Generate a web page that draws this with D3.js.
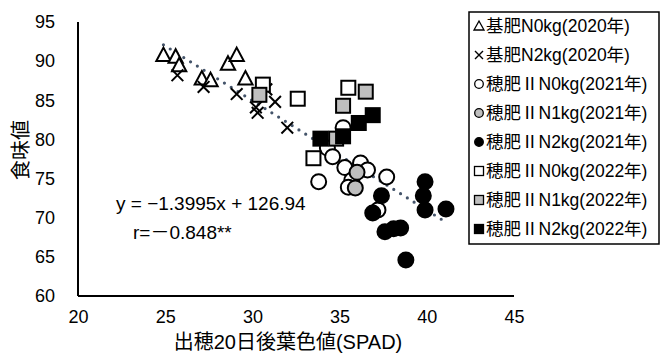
<!DOCTYPE html>
<html><head><meta charset="utf-8">
<script src="https://cdn.jsdelivr.net/npm/d3@7"></script>
<style>
html,body{margin:0;padding:0;background:#fff;}
svg text{font-family:"Liberation Sans","Noto Sans CJK JP",sans-serif;fill:#000;}
</style></head>
<body>
<svg id="chart" width="661" height="353"></svg>
<script>
// ---- data ----
const xTicks = [20, 25, 30, 35, 40, 45];
const yTicks = [60, 65, 70, 75, 80, 85, 90, 95];
const xTitle = "出穂20日後葉色値(SPAD)";
const yTitle = "食味値";
const eqText = "y = −1.3995x + 126.94";
const rText = "r=－0.848**";
const trendSlope = -1.3995;
const trendIntercept = 126.94;

const base0_2020 = [[24.9,90.7],[25.6,90.5],[25.8,89.4],[27.1,87.7],[27.6,87.5],[28.6,89.6],[29.1,90.7],[29.6,87.7]];
const base2_2020 = [[25.7,88.2],[27.2,86.7],[29.1,85.8],[30.2,84.1],[30.3,83.4],[30.8,86.4],[31.3,84.8],[32.0,81.5]];
const ear0_2021 = [[35.2,81.5],[34.3,78.9],[34.6,77.8],[33.8,74.6],[35.3,76.4],[36.2,77.0],[36.6,76.1],[35.7,74.8],[35.5,73.9],[37.7,75.2],[37.2,71.0]];
const ear1_2021 = [[36.0,75.8],[35.9,73.8]];
const ear2_2021 = [[39.9,74.6],[39.8,72.8],[39.9,71.0],[41.1,71.1],[37.4,72.8],[36.9,70.6],[37.6,68.2],[38.1,68.6],[38.5,68.7],[38.8,64.6]];
const ear0_2022 = [[30.6,87.0],[32.6,85.2],[35.5,86.6],[33.5,77.6]];
const ear1_2022 = [[30.4,85.7],[36.5,86.1],[35.2,84.3],[34.8,80.1]];
const ear2_2022 = [[36.9,83.1],[36.1,82.1],[35.2,80.4],[33.9,80.1]];

const legendLabels = ["基肥N0kg(2020年)","基肥N2kg(2020年)","穂肥ⅡN0kg(2021年)","穂肥ⅡN1kg(2021年)","穂肥ⅡN2kg(2021年)","穂肥ⅡN0kg(2022年)","穂肥ⅡN1kg(2022年)","穂肥ⅡN2kg(2022年)"];

// ---- series definitions ----
const series = [
  {data: base0_2020, shape: "tri", fill: "#fff", size: 13},
  {data: base2_2020, shape: "cross", fill: "none", size: 13},
  {data: ear0_2021, shape: "circle", fill: "#fff", size: 15},
  {data: ear1_2021, shape: "circle", fill: "#bfbfbf", size: 15},
  {data: ear2_2021, shape: "circle", fill: "#000", size: 15},
  {data: ear0_2022, shape: "square", fill: "#fff", size: 14},
  {data: ear1_2022, shape: "square", fill: "#bfbfbf", size: 14},
  {data: ear2_2022, shape: "square", fill: "#000", size: 14}
];

const svg = d3.select("#chart");
const x = d3.scaleLinear().domain([20, 45]).range([78, 514]);
const y = d3.scaleLinear().domain([60, 95]).range([296, 22]);

// axes
const xAxis = d3.axisBottom(x).tickValues(xTicks).tickSize(0).tickPadding(14).tickFormat(d3.format("d"));
const yAxis = d3.axisLeft(y).tickValues(yTicks).tickSize(0).tickPadding(23).tickFormat(d3.format("d"));
const gx = svg.append("g").attr("transform", `translate(0,${y(60)})`).call(xAxis);
const gy = svg.append("g").attr("transform", `translate(${x(20)},0)`).call(yAxis);
[gx, gy].forEach(g => {
  g.select(".domain").attr("stroke", "#000").attr("stroke-width", 2);
  g.selectAll("text").attr("font-size", 18).attr("fill", "#000")
    .style("font-family", "'Liberation Sans','Noto Sans CJK JP',sans-serif");
});
gy.select(".domain").attr("d", `M0,${y(95)}V${y(60)}`);
gx.select(".domain").attr("d", `M${x(20)-x(20)},0H${x(45)-x(20)}`).attr("transform", `translate(${x(20)},0)`);

// titles
svg.append("text").attr("x", 288).attr("y", 349).attr("text-anchor", "middle")
  .attr("font-size", 20).text(xTitle);
svg.append("text").attr("transform", "translate(28,150) rotate(-90)").attr("text-anchor", "middle")
  .attr("font-size", 20).text(yTitle);

// trendline
const allX = series.flatMap(s => s.data.map(d => d[0]));
const tx = d3.extent(allX);
const trend = tx.map(v => [v, trendSlope * v + trendIntercept]);
svg.append("path")
  .attr("d", d3.line().x(d => x(d[0])).y(d => y(d[1]))(trend))
  .attr("stroke", "#44546A").attr("stroke-width", 3.2).attr("stroke-linecap", "round")
  .attr("stroke-dasharray", "0 8").attr("fill", "none");

// markers
function drawMarker(g, shape, fill, cx, cy, s) {
  if (shape === "tri") {
    g.append("path").attr("d", `M${cx},${cy - s*0.62}L${cx + s*0.55},${cy + s*0.42}L${cx - s*0.55},${cy + s*0.42}Z`)
      .attr("fill", fill).attr("stroke", "#000").attr("stroke-width", 2);
  } else if (shape === "cross") {
    const r = s * 0.45;
    g.append("path").attr("d", `M${cx-r},${cy-r}L${cx+r},${cy+r}M${cx+r},${cy-r}L${cx-r},${cy+r}`)
      .attr("stroke", "#000").attr("stroke-width", 2).attr("fill", "none");
  } else if (shape === "circle") {
    g.append("circle").attr("cx", cx).attr("cy", cy).attr("r", s / 2)
      .attr("fill", fill).attr("stroke", "#000").attr("stroke-width", 2);
  } else if (shape === "square") {
    g.append("rect").attr("x", cx - s/2).attr("y", cy - s/2).attr("width", s).attr("height", s)
      .attr("fill", fill).attr("stroke", "#000").attr("stroke-width", 2);
  }
}
const mg = svg.append("g");
series.forEach(s => {
  s.data.forEach(d => drawMarker(mg, s.shape, s.fill, x(d[0]), y(d[1]), s.size));
});

// equation
svg.append("text").attr("x", 116).attr("y", 210).attr("font-size", 19).text(eqText);
svg.append("text").attr("x", 133).attr("y", 239).attr("font-size", 19).text(rText);

// legend
const lg = svg.append("g");
lg.append("rect").attr("x", 469).attr("y", 12).attr("width", 190).attr("height", 232)
  .attr("fill", "#fff").attr("stroke", "#000").attr("stroke-width", 1.5);
legendLabels.forEach((lab, i) => {
  const cy = 26 + i * 29;
  const s = series[i];
  const sg = lg.append("g");
  if (s.shape === "tri") {
    sg.append("path").attr("d", `M479,${cy-5}L484,${cy+4}L474,${cy+4}Z`).attr("fill", "#fff").attr("stroke", "#000").attr("stroke-width", 1.3);
  } else if (s.shape === "cross") {
    sg.append("path").attr("d", `M475,${cy-4}L483,${cy+4}M483,${cy-4}L475,${cy+4}`).attr("stroke", "#000").attr("stroke-width", 1.4);
  } else if (s.shape === "circle") {
    sg.append("circle").attr("cx", 479).attr("cy", cy).attr("r", 4.3).attr("fill", s.fill).attr("stroke", "#000").attr("stroke-width", 1.3);
  } else {
    sg.append("rect").attr("x", 474.5).attr("y", cy - 4.5).attr("width", 9).attr("height", 9).attr("fill", s.fill).attr("stroke", "#000").attr("stroke-width", 1.3);
  }
  lg.append("text").attr("x", 486).attr("y", cy).attr("dy", "0.36em").attr("font-size", 17.5).text(lab);
});
</script>
</body></html>
